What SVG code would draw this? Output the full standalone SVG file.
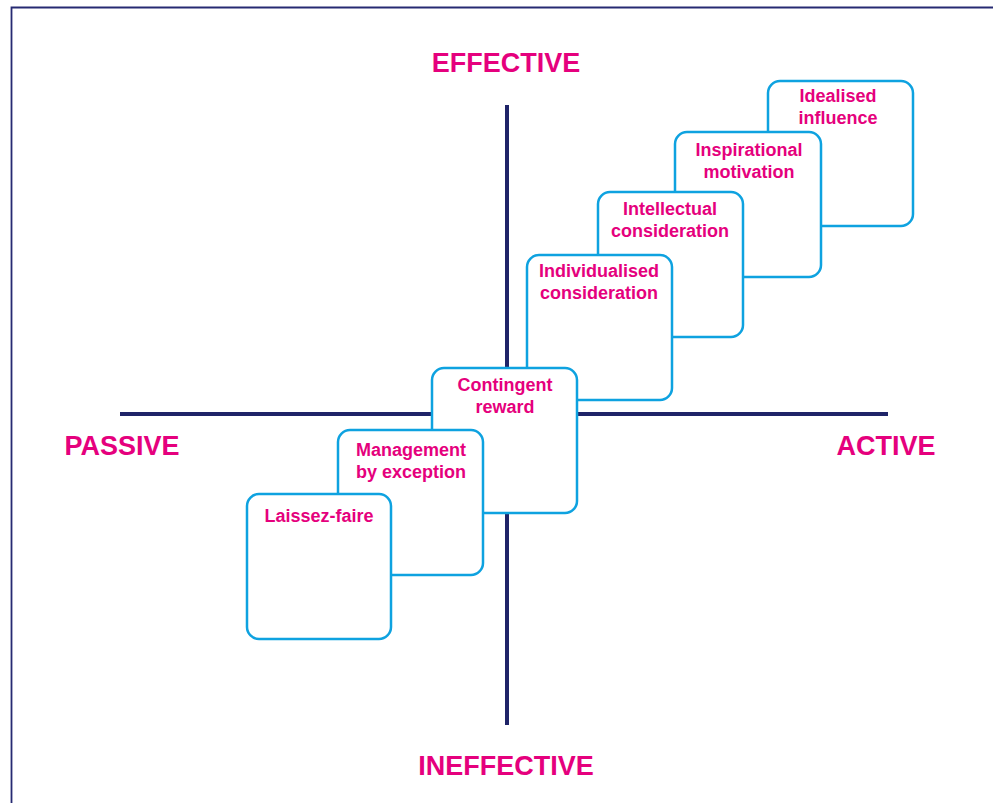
<svg xmlns="http://www.w3.org/2000/svg" width="993" height="803" viewBox="0 0 993 803">
<style>
.box{fill:#fff;stroke:#0ea2e0;stroke-width:2.5}
.t{font-family:"Liberation Sans",Arial,sans-serif;font-weight:bold;font-size:18px;fill:#e5007d;text-anchor:middle}
.ax{font-family:"Liberation Sans",Arial,sans-serif;font-weight:bold;font-size:27px;fill:#e5007d;text-anchor:middle}
.axis{stroke:#1f2468;stroke-width:4}
</style>
<rect x="0" y="0" width="993" height="803" fill="#fff"/>
<path d="M11.5 803 V7.5 H993" fill="none" stroke="#262a72" stroke-width="1.8"/>
<g id="connectors">
<line class="axis" x1="120" y1="414" x2="888" y2="414"/>
<line class="axis" x1="507" y1="105" x2="507" y2="725"/>
</g>
<text class="ax" x="506" y="72">EFFECTIVE</text>
<text class="ax" x="506" y="775">INEFFECTIVE</text>
<text class="ax" x="122" y="455">PASSIVE</text>
<text class="ax" x="886" y="455">ACTIVE</text>
<g id="idealised"><rect class="box" x="768" y="81" width="145" height="145" rx="12"/><text class="t" x="838" y="102">Idealised</text><text class="t" x="838" y="124">influence</text></g>
<g id="inspirational"><rect class="box" x="675" y="132" width="146" height="145" rx="12"/><text class="t" x="749" y="156">Inspirational</text><text class="t" x="749" y="178">motivation</text></g>
<g id="intellectual"><rect class="box" x="598" y="192" width="145" height="145" rx="12"/><text class="t" x="670" y="215">Intellectual</text><text class="t" x="670" y="237">consideration</text></g>
<g id="individualised"><rect class="box" x="527" y="255" width="145" height="145" rx="12"/><text class="t" x="599" y="277">Individualised</text><text class="t" x="599" y="299">consideration</text></g>
<g id="contingent"><rect class="box" x="432" y="368" width="145" height="145" rx="12"/><text class="t" x="505" y="391">Contingent</text><text class="t" x="505" y="413">reward</text></g>
<g id="management"><rect class="box" x="338" y="430" width="145" height="145" rx="12"/><text class="t" x="411" y="456">Management</text><text class="t" x="411" y="478">by exception</text></g>
<g id="laissez"><rect class="box" x="247" y="494" width="144" height="145" rx="12"/><text class="t" x="319" y="522">Laissez-faire</text></g>
</svg>
